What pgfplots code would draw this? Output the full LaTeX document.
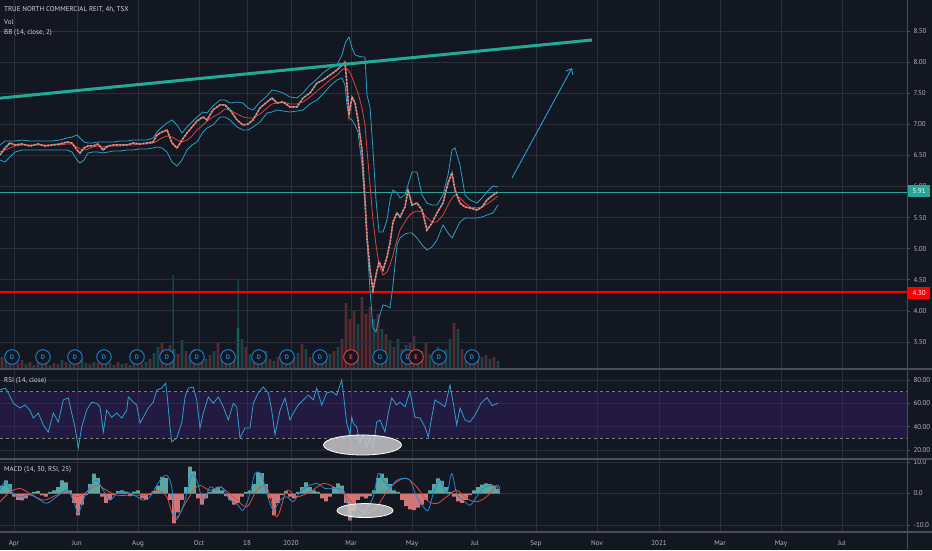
\documentclass[border=0pt]{standalone}
\usepackage{pgfplots}
\pgfplotsset{compat=1.18}
\usepackage{pgfplotstable}
\usepackage{fontspec}
\setmainfont{PT Sans}
\usetikzlibrary{arrows.meta}

\definecolor{bgc}{HTML}{131722}
\definecolor{gridc}{HTML}{2A2E39}
\definecolor{sepc}{HTML}{4A4E59}
\definecolor{txtc}{HTML}{B2B5BE}
\definecolor{ttlc}{HTML}{D1D4DC}
\definecolor{bandc}{HTML}{28A0C2}
\definecolor{basec}{HTML}{D84343}
\definecolor{upc}{HTML}{26A69A}
\definecolor{dnc}{HTML}{EF5350}
\definecolor{trendc}{HTML}{22AB94}
\definecolor{arrc}{HTML}{2AA2D0}
\definecolor{rsic}{HTML}{2E9FCB}
\definecolor{rsiband}{HTML}{3A1F6E}
\definecolor{dashc}{HTML}{787B86}
\definecolor{macdc}{HTML}{1F87D6}
\definecolor{sigc}{HTML}{E5483A}
\definecolor{divc}{HTML}{1F7FC8}
\definecolor{earnc}{HTML}{E0443A}

\newcommand\tl{\fontsize{7}{8.4}\selectfont}

% x = bar-time index in days from 1 Apr 2019
% price: close, upper / middle / lower Bollinger band
\pgfplotstableread{
d c u m l
-14 6.506 6.667 6.554 6.426
-9 6.619 6.731 6.586 6.393
-4 6.699 6.731 6.619 6.474
1 6.667 6.731 6.651 6.554
8 6.683 6.747 6.667 6.586
16 6.651 6.731 6.667 6.586
24 6.683 6.731 6.667 6.586
31 6.651 6.731 6.667 6.586
38 6.667 6.731 6.667 6.586
46 6.683 6.747 6.667 6.586
53 6.715 6.779 6.683 6.586
58 6.699 6.795 6.683 6.554
63 6.586 6.828 6.635 6.426
66 6.538 6.779 6.603 6.377
70 6.619 6.715 6.586 6.426
74 6.651 6.699 6.603 6.538
79 6.651 6.699 6.635 6.554
84 6.683 6.715 6.651 6.554
89 6.586 6.715 6.635 6.538
94 6.651 6.715 6.651 6.554
100 6.667 6.715 6.651 6.570
106 6.667 6.731 6.651 6.570
113 6.667 6.731 6.667 6.586
119 6.699 6.747 6.667 6.586
126 6.683 6.747 6.683 6.603
133 6.699 6.747 6.683 6.603
139 6.715 6.779 6.699 6.619
143 6.828 6.876 6.731 6.635
148 6.876 6.956 6.779 6.619
153 6.908 7.021 6.811 6.554
158 6.699 7.069 6.795 6.393
163 6.619 6.988 6.747 6.329
168 6.747 6.860 6.715 6.426
173 6.860 6.956 6.747 6.586
178 6.956 7.037 6.811 6.667
183 7.053 7.117 6.908 6.715
189 7.117 7.197 6.988 6.876
193 7.069 7.181 7.053 6.940
199 7.230 7.294 7.117 6.988
206 7.310 7.390 7.181 7.117
211 7.310 7.390 7.246 7.117
216 7.230 7.342 7.230 7.069
223 7.069 7.358 7.165 6.956
229 6.988 7.342 7.117 6.908
234 7.004 7.262 7.101 6.908
239 7.069 7.230 7.101 6.956
246 7.262 7.358 7.165 7.037
253 7.358 7.455 7.262 7.181
258 7.422 7.551 7.326 7.197
263 7.342 7.535 7.342 7.230
269 7.358 7.503 7.358 7.213
276 7.278 7.439 7.326 7.197
283 7.278 7.422 7.326 7.213
289 7.422 7.503 7.358 7.230
296 7.503 7.631 7.439 7.326
303 7.664 7.728 7.535 7.390
309 7.712 7.824 7.615 7.487
316 7.792 7.905 7.712 7.615
323 7.873 7.953 7.792 7.712
328 7.953 8.114 7.873 7.744
331 8.001 8.291 7.905 7.631
333 7.631 8.355 7.889 7.310
335 7.149 8.403 7.857 7.101
338 7.439 8.226 7.760 7.069
341 7.342 8.114 7.631 6.988
344 7.069 8.098 7.503 6.876
348 6.586 8.082 7.262 6.345
351 5.783 8.082 6.988 5.702
353 5.188 7.471 6.586 5.140
356 4.657 7.278 6.024 4.336
359 4.336 6.586 5.461 3.725
362 4.577 5.783 5.059 3.660
365 4.786 5.268 4.738 3.885
369 4.657 5.268 4.577 4.095
373 4.866 5.461 4.625 4.078
376 5.091 5.783 4.738 4.046
379 5.429 5.943 4.898 4.416
383 5.574 5.895 5.140 5.059
386 5.509 5.815 5.300 5.172
391 5.670 5.863 5.429 5.236
394 5.943 6.024 5.509 5.252
398 5.702 6.233 5.574 5.252
403 5.734 6.233 5.606 5.172
408 5.622 5.863 5.590 5.059
413 5.300 5.734 5.493 4.979
418 5.413 5.702 5.429 5.027
423 5.574 5.702 5.429 5.140
429 5.734 5.863 5.541 5.381
434 6.056 6.185 5.702 5.252
438 6.217 6.586 5.815 5.172
441 5.943 6.619 5.863 5.268
446 5.734 6.345 5.815 5.429
451 5.670 5.863 5.734 5.493
456 5.654 5.783 5.670 5.493
463 5.622 5.734 5.654 5.493
468 5.670 5.815 5.670 5.509
473 5.783 5.911 5.718 5.541
479 5.863 6.008 5.783 5.574
484 5.911 5.992 5.847 5.702
}\price

\pgfplotstableread{
d v
-8 16
0 8
12 5
20 4
28 5
36 4
48 9
56 5
68 10
72 6
80 7
92 5
100 4
108 5
116 4
124 6
132 7
140 16
144 22
152 18
160 20
168 29
176 14
184 12
192 10
200 18
208 15
216 20
224 41
228 30
236 15
244 14
252 18
260 8
268 9
276 10
284 16
292 20
300 16
308 14
316 15
324 22
344 45
360 50
368 40
376 29
384 30
392 24
404 20
416 15
424 22
432 20
436 30
444 40
452 14
460 12
468 12
476 10
484 8
}\volup

\pgfplotstableread{
d v
-12 12
-4 10
4 6
8 9
16 7
24 6
32 8
40 6
44 5
52 7
60 8
64 12
76 5
84 6
88 9
96 6
104 7
112 6
120 8
128 5
136 10
148 26
156 24
164 15
172 18
180 20
188 16
196 14
204 27
212 12
220 14
232 22
240 10
248 12
256 10
264 12
272 14
280 12
288 25
296 12
304 10
312 12
320 18
328 30
332 66
336 50
340 58
348 72
352 55
356 62
364 55
372 35
380 22
388 20
396 26
400 33
408 18
412 26
420 18
428 16
440 46
448 20
456 18
464 16
472 14
480 12
}\voldn

% single very large bars
\pgfplotstableread{
d v
159 94
224 89
}\volspike

\pgfplotstableread{
d r
-14 71.4
-9 73
-5.7 69
-0.7 60
6 56
11 58.6
16 54
19.3 47.4
24.3 51.7
29.3 41.4
34.3 35.4
39.3 51.7
44.3 44
49.3 62.9
54.3 64.6
57.7 51.7
61 39.7
64.3 21.7
67.7 39.7
72.7 54.3
77.7 61
82.7 60
86 57
89.3 35.4
92.7 54
97.7 48
102.7 51.7
107.7 47.4
112.7 54
114.3 65.4
119.3 61
122.7 58.6
126 43
129.3 48
134.3 56
139.3 61
142.7 71.4
147.7 73
151.7 77.4
153.3 65.4
156 39.7
157.7 26.9
162.7 30.3
167.7 43
171 65.4
174.3 73
179.3 74
182.7 62.9
186 38.9
189.3 51.7
194.3 65.4
199.3 60
204.3 65.4
209.3 57
214.3 45.7
219.3 60
222.7 57
226 30.3
231 38.9
236 38.9
239.3 60
244.3 69
249.3 74
254.3 69
257.7 54
261 33
266 54
271 64.6
276 45.7
279.3 51.7
284.3 58.6
289.3 62.9
294.3 67
299.3 62.9
302.7 73
307.7 58.6
312.7 69
317.7 70
322.7 67
327.7 80
329.3 69
332.7 43
336 33
337.7 48
339.3 43
342.7 39.7
346 26
349.3 33
352.7 22.6
356 31
359.3 21.7
362.7 44
366 45.7
371 35.4
374.3 51.7
377.7 64.6
382.7 58.6
386 61
391 57
396 70
401 48
406 47.4
411 39.7
414.3 31
417.7 48
421 62.9
426 60
431 57
436 75.7
439.3 60
442.7 41.4
446 56
451 45.7
456 44
461 50
467 60
473 65
478 58
484 60
}\rsi

\pgfplotstableread{
d h
-12 2.5
-8 4.2
-4 3.0
20 0.5
24 0.8
36 0.5
40 1.0
44 2.0
48 4.2
52 3.5
56 1.0
76 3.0
80 6.3
84 5.0
104 0.8
108 1.0
112 0.5
120 0.6
124 1.0
140 0.8
144 2.5
148 5.3
152 5.0
172 2.0
176 8.5
180 7.0
196 0.5
200 1.5
204 2.0
208 1.0
232 0.5
236 1.0
240 3.0
244 6.9
248 6.5
252 3.0
272 0.8
284 0.5
288 2.0
292 3.5
296 2.0
300 1.0
304 0.5
320 2.0
324 3.2
328 2.5
360 1.0
364 5.0
368 6.3
372 5.0
376 3.0
380 1.0
384 0.5
416 1.0
420 3.0
424 4.8
428 4.0
432 2.0
436 0.5
460 1.0
464 2.0
468 2.8
472 3.2
476 3.0
480 2.5
484 1.5
}\hup

\pgfplotstableread{
d h
0 -1.0
4 -2.0
8 -2.2
12 -1.5
16 -0.5
28 -0.6
32 -1.0
60 -3.0
64 -6.9
68 -3.5
72 -0.5
88 -1.0
92 -3.0
96 -2.0
100 -0.5
116 -0.8
128 -1.5
132 -2.0
136 -0.5
156 -2.0
160 -9.5
164 -6.0
168 -2.0
184 -1.5
188 -3.5
192 -1.5
212 -0.8
216 -2.0
220 -3.5
224 -3.0
228 -1.0
256 -1.5
260 -6.9
264 -3.0
268 -0.5
276 -1.0
280 -1.5
308 -1.5
312 -2.5
316 -1.0
332 -3.0
336 -8.5
340 -5.5
344 -2.0
348 -1.0
352 -1.5
356 -0.8
388 -2.0
392 -4.0
396 -5.0
400 -5.3
404 -4.5
408 -3.5
412 -2.0
440 -1.0
444 -2.5
448 -3.0
452 -2.0
456 -0.5
}\hdn

\pgfplotstableread{
d v
-14 1.0
-9 3.6
-0.7 0
6 -1.1
16 -0.4
22.7 -1.4
32.7 -3.1
42.7 -1.0
52.7 1.1
59.3 -2.1
64.3 -6.3
69.3 -2.0
76 2.1
82.7 4.2
89.3 1.0
96 -2.1
102.7 0
112.7 0.5
122.7 -1.0
129.3 -2.1
136 -1.0
146 4.2
152.7 5.8
157.7 2.1
161 -7.4
167.7 -5.3
172.7 0
177.7 5.8
182.7 4.2
189.3 -2.1
196 2.1
202.7 1.0
207.7 2.1
216 -2.1
222.7 -3.2
229.3 -5.3
236 0
241 6.3
247.7 5.8
252.7 0
259.3 -5.3
266 -2.1
272.7 -1.0
279.3 -2.6
286 0.5
292.7 2.1
302.7 3.2
311 1.6
319.3 1.6
326 1.6
331 0
336 -8.5
341 -5.3
346 -7.4
352.7 -4.8
359.3 -1.0
364.3 6.3
369.3 4.2
376 2.1
382.7 4.2
389.3 4.8
396 4.2
402.7 -1.0
409.3 -4.2
414.3 -5.3
419.3 0
426 4.2
432.7 0
437.7 6.3
442.7 0
449.3 -2.1
456 -3.7
462.7 -1.0
469.3 1.6
476 2.6
482.7 2.1
486 0.5
}\macd

\pgfplotstableread{
d v
-14 -2.6
-4 0.5
6 1.6
16 0
29.3 -2.1
42.7 -0.5
52.7 0.5
62.7 -1.0
72.7 0.5
82.7 2.6
92.7 1.0
102.7 -0.5
119.3 -0.5
132.7 -0.5
142.7 1.0
152.7 -1.0
161 -8.5
169.3 -4.2
179.3 1.0
186 2.6
196 1.0
206 2.1
219.3 -1.0
232.7 -4.2
242.7 1.0
252.7 2.1
262.7 -7.4
272.7 1.0
282.7 -1.0
296 0.5
309.3 3.2
322.7 1.6
332.7 -1.0
342.7 -4.2
352.7 -6.3
362.7 -4.2
372.7 0.5
382.7 3.7
392.7 4.8
402.7 2.1
412.7 -2.1
422.7 -3.2
432.7 -1.0
442.7 1.0
452.7 -1.6
462.7 -2.6
472.7 -1.0
482.7 2.6
486 1.6
}\sig

\pgfplotsset{tvpane/.style={
  scale only axis, width=907pt, anchor=south west,
  xmin=-14, xmax=893,
  axis line style={draw=none},
  xtick={0,63,124,185,233,277,337,398,461,522,583,645,706,767,828},
  xticklabels={},
  xtick style={draw=none},
  ytick style={draw=sepc, line width=0.6pt},
  tick align=outside, major tick length=3pt,
  ytick pos=right, yticklabel pos=right,
  grid=major, major grid style={gridc, line width=0.7pt},
  ticklabel style={font=\tl, text=txtc},
  yticklabel style={anchor=west},
  /pgf/number format/assume math mode=true}}

\begin{document}
\begin{tikzpicture}
\useasboundingbox (0,0) rectangle (932pt,550pt);
\fill[bgc] (0,0) rectangle (932pt,550pt);

% volume
\begin{axis}[at={(0pt,181pt)}, anchor=south west, scale only axis,
  width=907pt, height=369pt, xmin=-14, xmax=893, ymin=0, ymax=369, hide axis]
\addplot[ybar, bar width=2.6pt, bar shift=0pt, draw=none, fill=upc, fill opacity=0.32] table[x=d,y=v] {\volup};
\addplot[ybar, bar width=2.6pt, bar shift=0pt, draw=none, fill=dnc, fill opacity=0.32] table[x=d,y=v] {\voldn};
\addplot[ybar, bar width=1pt, bar shift=0pt, draw=none, fill=upc, fill opacity=0.5] table[x=d,y=v] {\volspike};
\end{axis}

% price
\begin{axis}[tvpane, at={(0pt,181pt)}, height=369pt, ymin=3.065, ymax=8.998,
  ytick={3.5,4,4.5,5,5.5,6,6.5,7,7.5,8,8.5},
  yticklabels={3.50,4.00,4.50,5.00,5.50,6.00,6.50,7.00,7.50,8.00,8.50}]
\addplot[upc, line width=0.8pt] coordinates {(-14,5.91) (893,5.91)};
\addplot[red, line width=2.6pt] coordinates {(-14,4.30) (893,4.30)};
\addplot[bandc, line width=0.8pt] table[x=d,y=u] {\price};
\addplot[bandc, line width=0.8pt] table[x=d,y=l] {\price};
\addplot[basec, line width=0.8pt] table[x=d,y=m] {\price};
\addplot[dnc, line width=1.5pt] table[x=d,y=c] {\price};
\addplot[upc!60!white, line width=1.5pt, dash pattern=on 1.2pt off 2.2pt] table[x=d,y=c] {\price};
\addplot[trendc, line width=3pt] coordinates {(-14,7.42) (578,8.355)};
\addplot[arrc, line width=0.9pt, -{Straight Barb[length=5pt,width=8pt]}] coordinates {(498,6.136) (558,7.905)};
% dividends and earnings
\addplot[only marks, mark=*, mark size=7.3pt, mark options={draw=divc, fill=bgc, line width=0.9pt}]
  coordinates {(-2,3.258) (29,3.258) (61,3.258) (90,3.258) (123,3.258) (153,3.258) (183,3.258) (214,3.258) (245,3.258) (273,3.258) (306,3.258) (366,3.258) (394,3.258) (425,3.258) (458,3.258)};
\addplot[only marks, mark=text, text mark={D}, text mark as node=true,
  text mark style={font=\fontsize{6.5}{7}\selectfont\bfseries, text=divc, inner sep=0pt}]
  coordinates {(-2,3.258) (29,3.258) (61,3.258) (90,3.258) (123,3.258) (153,3.258) (183,3.258) (214,3.258) (245,3.258) (273,3.258) (306,3.258) (366,3.258) (394,3.258) (425,3.258) (458,3.258)};
\addplot[only marks, mark=*, mark size=7.3pt, mark options={draw=earnc, fill=bgc, line width=0.9pt}]
  coordinates {(337,3.258) (402,3.258)};
\addplot[only marks, mark=text, text mark={E}, text mark as node=true,
  text mark style={font=\fontsize{6.5}{7}\selectfont\bfseries, text=earnc, inner sep=0pt}]
  coordinates {(337,3.258) (402,3.258)};
\end{axis}

% RSI
\begin{axis}[tvpane, at={(0pt,91pt)}, height=90pt, ymin=12.3, ymax=89.4,
  ytick={20,40,60,80}, yticklabels={20.00,40.00,60.00,80.00}]
\fill[rsiband, opacity=0.4] (axis cs:-14,30) rectangle (axis cs:893,70);
\addplot[dashc, line width=0.7pt, dash pattern=on 3pt off 3pt] coordinates {(-14,70) (893,70)};
\addplot[dashc, line width=0.7pt, dash pattern=on 3pt off 3pt] coordinates {(-14,30) (893,30)};
\addplot[rsic, line width=0.8pt] table[x=d,y=r] {\rsi};
\draw[white, line width=0.8pt, fill={rgb,255:red,200;green,200;blue,200}, fill opacity=0.85]
  (axis cs:348.5,24.3) ellipse [x radius=39pt, y radius=10pt];
\end{axis}

% MACD
\begin{axis}[tvpane, at={(0pt,18pt)}, height=73pt, ymin=-12.2, ymax=10.95,
  ytick={-10,0,10}, yticklabels={-10.0,0.0,10.0},
  xticklabels={Apr,Jun,Aug,Oct,18,2020,Mar,May,Jul,Sep,Nov,2021,Mar,May,Jul},
  xticklabel style={yshift=-2pt}]
\addplot[ybar, bar width=3.6pt, bar shift=0pt, draw=none, fill=upc!70!white, fill opacity=0.85] table[x=d,y=h] {\hup};
\addplot[ybar, bar width=3.6pt, bar shift=0pt, draw=none, fill=dnc!70!white, fill opacity=0.85] table[x=d,y=h] {\hdn};
\addplot[sigc, line width=0.8pt, smooth, tension=0.5] table[x=d,y=v] {\sig};
\addplot[macdc, line width=0.8pt, smooth, tension=0.5] table[x=d,y=v] {\macd};
\draw[white, line width=0.8pt, fill={rgb,255:red,200;green,200;blue,200}, fill opacity=0.85]
  (axis cs:351,-5.4) ellipse [x radius=28pt, y radius=7pt];
\end{axis}

% pane separators and price scale edge
\draw[sepc, line width=1.2pt] (0,181pt) -- (932pt,181pt);
\draw[sepc, line width=1.2pt] (0,91pt) -- (932pt,91pt);
\draw[sepc, line width=1.2pt] (0,18pt) -- (932pt,18pt);
\draw[sepc, line width=0.8pt] (907pt,0) -- (907pt,550pt);

% legends
\node[anchor=west, text=ttlc, font=\tl, inner sep=0pt] at (4pt,540pt) {TRUE NORTH COMMERCIAL REIT, 4h, TSX};
\node[anchor=west, text=ttlc, font=\tl, inner sep=0pt] at (4pt,528pt) {Vol};
\node[anchor=west, text=ttlc, font=\tl, inner sep=0pt] at (4pt,517pt) {BB (14, close, 2)};
\node[anchor=west, text=ttlc, font=\tl, inner sep=0pt] at (4pt,169pt) {RSI (14, close)};
\node[anchor=west, text=ttlc, font=\tl, inner sep=0pt] at (4pt,80pt) {MACD (14, 30, RSI, 25)};

% last price and level labels
\node[fill=upc, text=white, font=\tl, anchor=west, minimum width=22pt, minimum height=12pt, inner sep=1pt] at (908pt,359pt) {5.91};
\node[fill=red, text=white, font=\tl, anchor=west, minimum width=22pt, minimum height=12pt, inner sep=1pt] at (908pt,257pt) {4.30};
\end{tikzpicture}
\end{document}
